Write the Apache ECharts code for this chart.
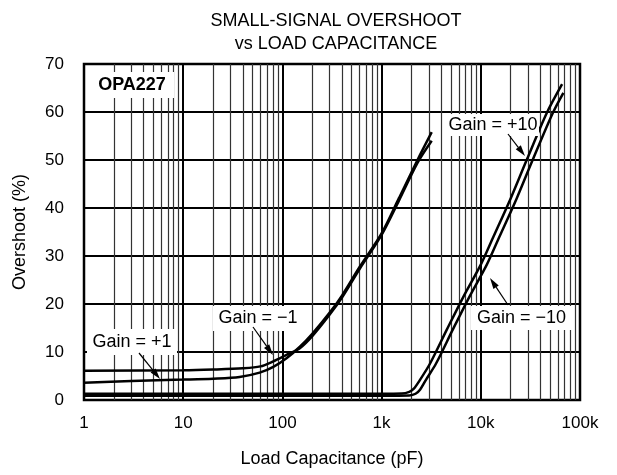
<!DOCTYPE html>
<html>
<head>
<meta charset="utf-8">
<script src="https://cdn.jsdelivr.net/npm/echarts@6/dist/echarts.min.js"></script>
<style>
html,body{margin:0;padding:0;background:#fff;}
#chart{width:617px;height:475px;}
</style>
</head>
<body>
<div id="chart"></div>
<script>
// ---- data ----
var xTickValues = [1, 10, 100, 1000, 10000, 100000];
var xTickLabels = ['1', '10', '100', '1k', '10k', '100k'];
var yTickLabels = ['0', '10', '20', '30', '40', '50', '60', '70'];

var capGainP1 = [1, 3, 10, 20, 37, 59, 81, 110, 150, 200, 300, 400, 600, 1000, 1500, 2300, 3200];
var osGainP1  = [3.6, 3.95, 4.25, 4.45, 4.8, 5.7, 6.9, 8.7, 11.1, 13.8, 18.2, 21.8, 27.7, 34.7, 42.1, 50.0, 55.8];

var capGainM1 = [1, 10, 20, 40, 60, 80, 110, 150, 200, 300, 400, 600, 1000, 1500, 2300, 3200];
var osGainM1  = [6.1, 6.2, 6.35, 6.6, 7.0, 8.0, 9.4, 10.8, 13.3, 17.8, 21.4, 27.3, 34.4, 41.6, 49.4, 54.0];

var capGainP10 = [1, 100, 1000, 1600, 1900, 2100, 2440, 3080, 4530, 6670, 10000, 13400, 20000, 29000, 46000, 66000];
var osGainP10  = [1.3, 1.3, 1.3, 1.35, 1.7, 2.3, 4.2, 7.6, 14.6, 21.5, 28.2, 34, 42, 50, 59.7, 65.8];

var capGainM10 = [1, 100, 1000, 1900, 2200, 2450, 2800, 3540, 5200, 7670, 11500, 15400, 23000, 33300, 52900, 68000];
var osGainM10  = [0.9, 0.9, 0.9, 0.95, 1.3, 2.2, 4.2, 7.6, 14.6, 21.5, 28.2, 34, 42, 50, 59.7, 64];

var chartTitle = 'SMALL-SIGNAL OVERSHOOT\nvs LOAD CAPACITANCE';
var xAxisTitle = 'Load Capacitance (pF)';
var yAxisTitle = 'Overshoot (%)';
var partLabel = 'OPA227';
var curveLabels = ['Gain = +1', 'Gain = \u22121', 'Gain = +10', 'Gain = \u221210'];

// minor log grid positions (2..9 in every decade)
var minorGrid = [];
for (var d = 1; d < 100000; d *= 10) {
  for (var m = 2; m <= 9; m++) minorGrid.push(d * m);
}

function zip(xs, ys) { return xs.map(function (x, i) { return [x, ys[i]]; }); }

var FONT = 'Liberation Sans, Arial, Helvetica, sans-serif';
var chart = echarts.init(document.getElementById('chart'), null, {renderer: 'canvas'});

function curve(name, xs, ys) {
  return {
    name: name, type: 'line', data: zip(xs, ys),
    showSymbol: false, symbol: 'none',
    smooth: 0.3,
    lineStyle: {color: '#000', width: 2.5},
    z: 5, silent: true
  };
}

function arrow(x1, y1, x2, y2) {
  var dx = x2 - x1, dy = y2 - y1, L = Math.sqrt(dx*dx + dy*dy);
  var ux = dx / L, uy = dy / L, hl = 11, hw = 3.2;
  var bx = x2 - ux * hl, by = y2 - uy * hl;
  return [
    {type: 'line', z: 110, shape: {x1: x1, y1: y1, x2: bx, y2: by}, style: {stroke: '#000', lineWidth: 1.2}},
    {type: 'polygon', z: 110, shape: {points: [[x2, y2], [bx - uy*hw, by + ux*hw], [bx + uy*hw, by - ux*hw]]}, style: {fill: '#000'}}
  ];
}

function labelBox(x, y, w, h, text, bold) {
  return [
    {type: 'rect', z: 100, shape: {x: x, y: y, width: w, height: h}, style: {fill: '#fff'}},
    {type: 'text', z: 101, x: x + w / 2, y: y + h / 2,
     style: {text: text, fill: '#000', font: (bold ? 'bold ' : '') + '18px ' + FONT, textAlign: 'center', textVerticalAlign: 'middle'}}
  ];
}

var graphics = [].concat(
  labelBox(90, 72, 84, 26, partLabel, true),
  labelBox(87, 329, 90, 26, curveLabels[0], false),
  labelBox(213, 306, 90, 25, curveLabels[1], false),
  labelBox(447, 114, 92, 22, curveLabels[2], false),
  labelBox(471, 306, 101, 24, curveLabels[3], false),
  arrow(139, 353, 160, 379),
  arrow(253, 327, 273, 355),
  arrow(508, 134, 525, 156),
  arrow(508, 305, 490, 278)
);

var option = {
  animation: false,
  backgroundColor: '#fff',
  title: {
    text: chartTitle, left: 331, top: 5, textAlign: 'center',
    textStyle: {fontFamily: FONT, fontSize: 18, fontWeight: 'normal', color: '#000', lineHeight: 23}
  },
  grid: {left: 84, right: 37, top: 64, bottom: 75, show: true, borderColor: '#000', borderWidth: 2.5, backgroundColor: 'transparent'},
  xAxis: {
    type: 'log', logBase: 10, min: 1, max: 100000,
    name: xAxisTitle, nameLocation: 'middle', nameGap: 50,
    nameTextStyle: {fontFamily: FONT, fontSize: 18, color: '#000'},
    axisLine: {show: false}, axisTick: {show: false},
    axisLabel: {fontFamily: FONT, fontSize: 17, color: '#000', margin: 15,
      formatter: function (v) { var i = xTickValues.indexOf(Math.round(v)); return i >= 0 ? xTickLabels[i] : ''; }},
    splitLine: {show: true, lineStyle: {color: '#000', width: 2}}
  },
  yAxis: {
    type: 'value', min: 0, max: 70, interval: 10,
    name: yAxisTitle, nameLocation: 'middle', nameGap: 55,
    nameTextStyle: {fontFamily: FONT, fontSize: 18, color: '#000'},
    axisLine: {show: false}, axisTick: {show: false},
    axisLabel: {fontFamily: FONT, fontSize: 17, color: '#000', margin: 20,
      formatter: function (v) { return yTickLabels[Math.round(v / 10)]; }},
    splitLine: {show: true, lineStyle: {color: '#000', width: 2}}
  },
  series: [
    {
      name: 'minorGrid', type: 'line', data: [], silent: true, z: 1,
      markLine: {
        silent: true, symbol: ['none', 'none'], animation: false,
        label: {show: false},
        lineStyle: {color: '#333', width: 1.2, type: 'solid'},
        data: minorGrid.map(function (v) { return {xAxis: v}; })
      }
    },
    curve('Gain = +1', capGainP1, osGainP1),
    curve('Gain = -1', capGainM1, osGainM1),
    curve('Gain = +10', capGainP10, osGainP10),
    curve('Gain = -10', capGainM10, osGainM10)
  ],
  graphic: graphics
};
chart.setOption(option);
</script>
</body>
</html>
